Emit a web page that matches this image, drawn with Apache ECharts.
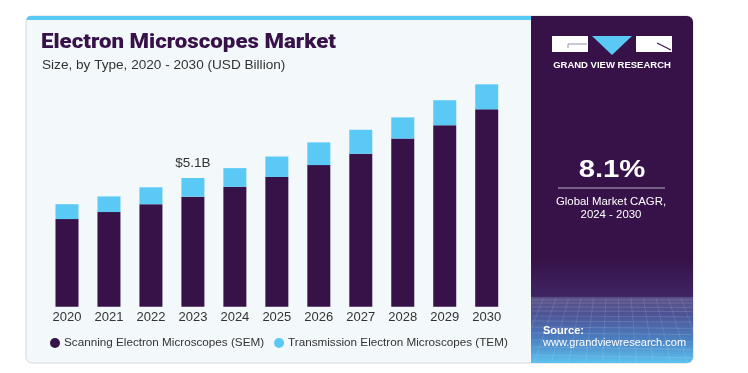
<!DOCTYPE html>
<html><head><meta charset="utf-8">
<script src="https://cdn.jsdelivr.net/npm/echarts@6/dist/echarts.min.js"></script>
<style>html,body{margin:0;padding:0;background:#fff}#c{width:748px;height:373px}</style>
</head><body><div id="c"></div>
<script>
const years = ['2020','2021','2022','2023','2024','2025','2026','2027','2028','2029','2030'];
const sem = [3.47,3.75,4.06,4.36,4.75,5.14,5.61,6.06,6.66,7.19,7.82];
const tem = [0.59,0.62,0.67,0.74,0.74,0.81,0.90,0.95,0.84,0.99,0.99];
const totalLabelIndex = 3;
const totalLabelText = '$5.1B';
const seriesNames = ['Scanning Electron Microscopes (SEM)','Transmission Electron Microscopes (TEM)'];

const PURPLE = '#371248';
const BLUE = '#5bc9f6';
const FONT = '"Liberation Sans", Arial, sans-serif';

// decorative mesh in the lower part of the side panel
const mesh = [];
const hy = [300,303,307,311,316,321,327,333,340,347,355];
hy.forEach(y => mesh.push({type:'line', z:-8, shape:{x1:532,y1:y,x2:692,y2:y+(y-300)*0.05}, style:{stroke:'rgba(255,255,255,0.16)',lineWidth:0.8}}));
for (let k=0;k<14;k++){
  const xt = 531 + k*12.5, xb = 531 + (k-6.5)*17 + 80;
  mesh.push({type:'line', z:-8, shape:{x1:xt,y1:298,x2:xb,y2:362}, style:{stroke:'rgba(255,255,255,0.14)',lineWidth:0.8}});
}

const chart = echarts.init(document.getElementById('c'), null, {renderer:'canvas'});
chart.setOption({
  animation:false,
  backgroundColor:'#ffffff',
  textStyle:{fontFamily:FONT},
  graphic:[
    {type:'rect', z:-10, shape:{x:26,y:16,width:667,height:347,r:6}, style:{fill:'#f3f8fb',stroke:'#d4d7db',lineWidth:1}},
    {type:'rect', z:-9, shape:{x:26.5,y:16,width:506,height:4,r:[5,0,0,0]}, style:{fill:BLUE}},
    {type:'rect', z:-9, shape:{x:531,y:16,width:162,height:347,r:[0,6,6,0]}, style:{fill:{type:'linear',x:0,y:0,x2:0,y2:1,colorStops:[
      {offset:0,color:PURPLE},{offset:0.70,color:PURPLE},{offset:0.808,color:'#3f2462'},{offset:0.812,color:'#5b5388'},
      {offset:0.86,color:'#4c5496'},{offset:0.93,color:'#4b7ec0'},{offset:1,color:'#5cc2ef'}]}}},
    ...mesh,
    {type:'text', x:41, y:32, scaleX:1.06, style:{text:'Electron Microscopes Market', font:'900 21px "Roboto", "Liberation Sans", Arial', fill:PURPLE}},
    {type:'text', x:42, y:58, style:{text:'Size, by Type, 2020 - 2030 (USD Billion)', font:'13.6px '+FONT, fill:'#333'}},
    // logo
    {type:'rect', shape:{x:552,y:36,width:36,height:16}, style:{fill:'#ffffff'}},
    {type:'polyline', shape:{points:[[587,44],[568,44],[568,48]]}, style:{stroke:'#9a8fa8',lineWidth:1,fill:null}},
    {type:'polygon', shape:{points:[[592,36],[632,36],[612,55]]}, style:{fill:BLUE}},
    {type:'rect', shape:{x:636,y:36,width:36,height:16}, style:{fill:'#ffffff'}},
    {type:'polyline', shape:{points:[[657,43],[671,50]]}, style:{stroke:PURPLE,lineWidth:1.2}},
    {type:'text', style:{x:612,y:65,text:'GRAND VIEW RESEARCH', align:'center', verticalAlign:'middle', font:'bold 9.5px '+FONT, fill:'#ffffff'}},
    {type:'text', x:612, y:170, scaleX:1.22, style:{x:0,y:0,text:'8.1%', align:'center', verticalAlign:'middle', font:'bold 24px '+FONT, fill:'#ffffff'}},
    {type:'line', shape:{x1:558,y1:188,x2:665,y2:188}, style:{stroke:'#b9b0c6',lineWidth:1.2}},
    {type:'text', style:{x:611,y:202,text:'Global Market CAGR,', align:'center', verticalAlign:'middle', font:'11.4px '+FONT, fill:'#ffffff'}},
    {type:'text', style:{x:611,y:215,text:'2024 - 2030', align:'center', verticalAlign:'middle', font:'11.4px '+FONT, fill:'#ffffff'}},
    {type:'text', style:{x:543,y:331,text:'Source:', verticalAlign:'middle', font:'bold 11px '+FONT, fill:'#ffffff'}},
    {type:'text', style:{x:543,y:343,text:'www.grandviewresearch.com', verticalAlign:'middle', font:'11px '+FONT, fill:'#ffffff'}}
  ],
  legend:{
    left:45, top:332, icon:'circle', itemWidth:10, itemHeight:10, itemGap:10,
    textStyle:{fontSize:11.7, color:'#333', fontFamily:FONT, padding:[0,0,0,-1]},
    data:seriesNames
  },
  grid:{left:46, right:240.3, top:54.3, bottom:66.3},
  xAxis:{type:'category', data:years, boundaryGap:true,
    axisLine:{show:false}, axisTick:{show:false},
    axisLabel:{fontSize:13, color:'#333', margin:4, fontFamily:FONT}},
  yAxis:{type:'value', min:0, max:10, show:false, splitLine:{show:false}},
  series:[
    {name:seriesNames[0], type:'bar', stack:'t', data:sem, barWidth:23, itemStyle:{color:PURPLE}},
    {name:seriesNames[1], type:'bar', stack:'t', barWidth:23, itemStyle:{color:BLUE},
      data:tem.map((v,i)=> i===totalLabelIndex ? {value:v, label:{show:true, position:'top', distance:8, formatter:totalLabelText, fontSize:13.5, color:'#333', fontFamily:FONT}} : v)}
  ]
});
</script></body></html>
